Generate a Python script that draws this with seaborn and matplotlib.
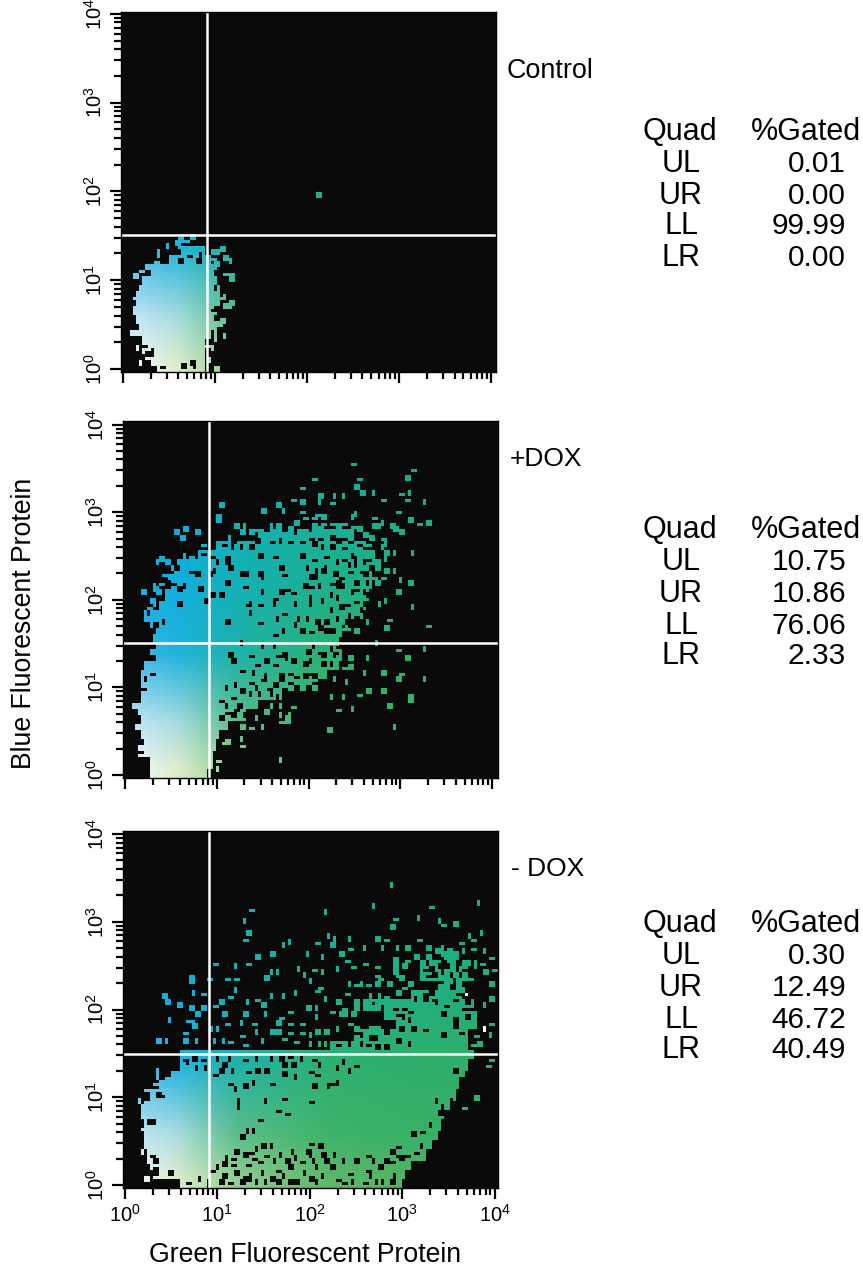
import numpy as np
import matplotlib
matplotlib.use('Agg')
import matplotlib.pyplot as plt
from matplotlib.colors import ListedColormap
import seaborn as sns

# Readings are in fine channel units, 9 units = 1 plot channel (3 px cell)
FINE = 9
W, H = 863, 1265

# ----------------------------------------------------
# Control: (fine y, fine x from, fine x to)
# ----------------------------------------------------
P1_SPANS = [(445,175,310),(420,155,310),(390,145,320),(360,128,328),(330,120,345),(300,110,350),
            (270,110,350),(240,115,355),(210,125,355),(180,130,350),(150,155,335),(120,210,325),(90,245,310)]
P1_EXTRA = [(275,52),(260,62),(235,65),(245,60),(205,85),(240,85),(225,75),(175,100),(175,112),(250,95),
            (275,95),(300,85),(365,88),(335,100),(355,100),(335,122),(370,122),(390,128),(345,135),(350,150),
            (375,160),(390,180),(395,175),(165,135),(155,145),(125,155),(135,150),(100,170),(105,235),(115,230),
            (360,232),(370,232),(380,262),(390,258),(370,265),(105,270),(100,280),(120,310),(95,342),(105,342),
            (370,310),(365,312),(355,320),(375,350),(345,365),(340,385),(110,390),(135,385),(125,435),(130,400),
            (135,415),(345,450),(330,425),(320,380),(648,-72)]
P1_HOLE = [(235,128),(295,125),(300,110),(265,108),(345,265),(350,210),(340,270),(150,385),(150,405),(150,425),
           (270,435),(245,445),(280,445),(315,415),(315,395),(315,375),(335,380),(180,445),(345,300),(340,340)]

# ----------------------------------------------------
# +DOX
# ----------------------------------------------------
P2_SPANS = [(945,120,290),(915,120,300),(885,120,300),(855,105,315),(825,100,325),(795,100,345),(765,100,400),
            (735,95,440),(705,95,510),(675,100,620),(645,100,650),(615,105,680),(585,125,690),(555,130,680),
            (525,130,690),(495,125,720),(465,125,750),(435,150,760),(405,165,770),(375,185,780),(345,195,800),
            (315,210,810),(285,270,790),(255,325,760),(225,450,730)]
P2_EXTRA = [(730,15),(905,35),(610,60),(885,60),(570,82),(745,60),(740,82),(790,100),(755,100),(870,100),(895,100),
            (625,110),(675,110),(700,115),(550,120),(575,130),(625,130),(660,130),(940,133),(815,125),(885,118),
            (500,142),(460,155),(520,160),(335,142),(325,165),(325,185),(570,160),(640,165),(740,165),(790,180),
            (800,205),(845,205),(860,155),(925,195),(950,190),(895,185),(400,205),(380,205),(480,200),(580,180),
            (610,180),(640,180),(660,190),(700,195),(725,200),(255,222),(220,215),(195,222),(215,238),(280,255),
            (240,295),(220,295),(155,298),(140,315),(165,315),(185,330),(205,310),(850,280),(820,240),(825,260),
            (905,285),(875,220),(850,215),(855,335),(830,340),(805,325),(820,360),(800,370),(870,365),(900,375),
            (860,400),(825,425),(810,440),(905,450),(950,500),(825,510),(835,480),(775,490),(740,520),(700,510),
            (940,568),(860,575),(890,595),(800,555),(770,597),(720,597),(680,600),(670,620),(700,630),(720,630),
            (760,640),(815,640),(870,640),(865,665),(940,658),(710,672),(675,665),(665,720),(700,715),(745,705),
            (770,700),(815,700),(895,705),(895,725),(835,740),(685,750),(725,750),(850,808),(655,815),(510,908),
            (100,398),(130,395),(105,480),(115,450),(135,440),(70,745),(80,745),(85,760),(75,810),(85,810),
            (90,870),(85,885),(105,885),(115,885),(510,770),(530,770),(540,770),(510,790),(530,790),(390,810),
            (420,808),(460,805),(440,780),(470,760),(545,740),(510,740),(480,740),(345,855),(390,845),(395,860),
            (300,890),(320,905),(320,930),(340,855),(180,360),(130,385),(780,240),(770,260),(790,300),
            (610,200),(630,210),(650,220),(680,225),(720,220),(745,215),(760,230),(620,170),(640,195),(680,205),
            (700,210),(730,175),(790,205),(815,195),(560,190),(540,205),(500,205),(440,215),(420,225),(390,225),
            (355,235),(830,300),(815,270),(830,280),(160,345),(150,370),(140,400),(125,430),(110,465)]
P2_HOLE = [(420,240),(440,250),(480,250),(510,245),(540,250),(570,250),(600,235),(625,240),(660,240),(700,240),
           (720,250),(745,255),(640,265),(660,270),(700,270),(730,295),(740,300),(760,270),(775,300),(700,300),
           (685,310),(610,300),(570,297),(495,292),(445,290),(420,270),(395,270),(365,250),(350,290),(345,315),
           (360,330),(320,315),(300,350),(310,340),(255,345),(240,340),(190,375),(205,395),(225,380),(265,395),
           (345,372),(405,385),(395,345),(405,345),(450,345),(460,355),(510,330),(520,345),(590,330),(615,335),
           (640,335),(670,350),(690,355),(720,340),(735,320),(760,350),(775,370),(735,375),(700,385),(660,370),
           (630,380),(580,380),(600,385),(530,395),(510,405),(550,405),(490,420),(455,405),(415,435),(305,412),
           (335,412),(285,432),(205,440),(160,490),(350,487),(425,465),(450,490),(500,480),(520,465),(565,478),
           (590,480),(600,440),(640,430),(660,455),(690,450),(720,470),(740,425),(760,440),(775,410),(725,405),
           (680,420),(605,420),(555,440),(495,440),(445,435),(420,440),(620,490),(650,490),(680,480),(700,505),
           (720,500),(740,470),(760,470),(745,515),(575,520),(555,500),(520,520),(490,525),(600,520),(630,510),
           (650,520),(665,520),(690,535),(460,565),(490,565),(500,590),(520,590),(395,555),(355,590),(370,605),
           (425,590),(440,620),(470,610),(490,615),(530,600),(545,610),(590,580),(610,565),(630,580),(600,605),
           (580,620),(640,590),(660,575),(660,620),(395,635),(430,640),(465,650),(510,640),(540,640),(510,660),
           (490,680),(460,660),(420,670),(375,680),(350,690),(395,700),(440,690),(475,690),(520,695),(370,720),
           (345,740),(385,740),(450,710),(480,710),(500,720),(420,710),(560,650),(610,650),(640,660),(580,650),
           (600,640),(540,670),(555,690),(330,780),(370,770),(345,760),(400,770),(380,755),(335,725),(610,675),
           (590,685),(640,620),(670,590),(680,560),(670,520),(680,640),(120,600),(120,640),(110,660),(100,690),
           (470,215),(520,215),(560,225),(600,215),(650,225),(700,215),(340,255),(370,265),(280,285),(300,295),
           (650,290),(680,250),(610,260),(720,320),(750,340),(780,330),(760,310),(790,350),(650,330),(600,360),
           (620,360),(680,370),(760,400),(740,395),(710,440),(680,385),(660,410),(750,455),(710,490),(660,505),
           (130,500),(125,520),(135,560),(125,590)]

# ----------------------------------------------------
# -DOX
# ----------------------------------------------------
P3_SPANS = [(945,215,290),(945,305,870),(915,130,295),(915,300,880),(885,125,900),(855,115,940),(825,105,960),
            (795,105,975),(765,105,985),(735,100,1000),(705,110,1015),(675,125,1030),(645,150,1045),(615,185,1060),
            (585,210,1070),(555,210,1085),(525,660,1070),(495,740,1070),(465,860,1100),(435,830,1100),(405,760,1090),
            (375,910,1060),(345,990,1060),(315,930,1090),(285,930,1100),(255,1000,1040)]
P3_EXTRA = [(845,48),(1105,100),(425,122),(650,132),(790,115),(958,117),(855,145),(925,145),(405,155),(985,160),
            (1030,170),(995,170),(410,190),(840,180),(1115,192),(715,208),(800,208),(655,205),(620,218),(540,218),
            (400,216),(520,232),(660,228),(675,215),(720,235),(830,215),(860,240),(885,240),(965,240),(1015,240),
            (1050,220),(1075,205),(1090,210),(925,210),(485,253),(590,258),(640,265),(440,265),(690,258),(765,242),
            (820,235),(710,275),(850,275),(920,262),(950,262),(1005,262),(1140,262),(1110,280),(1125,315),(1140,345),
            (1145,380),(1140,390),(1125,410),(1140,460),(1140,500),(1145,575),(1130,590),(1100,685),(1060,720),
            (855,315),(800,290),(760,285),(725,290),(680,300),(640,310),(610,300),(585,320),(565,298),(500,315),
            (485,315),(470,325),(345,325),(375,325),(380,297),(415,285),(310,285),(240,333),(245,340),(295,330),
            (250,370),(280,372),(375,368),(360,385),(160,380),(170,400),(205,407),(245,415),(275,415),(310,408),
            (330,405),(255,435),(230,458),(245,458),(180,458),(225,490),(225,505),(250,470),(340,440),(345,460),
            (400,440),(395,465),(435,388),(410,405),(460,410),(480,380),(520,385),(560,375),(620,368),(705,370),
            (600,335),(630,355),(740,350),(770,350),(795,345),(810,325),(650,390),(680,400),(700,420),(735,420),
            (620,420),(590,415),(540,430),(510,445),(470,435),(430,465),(500,460),(540,460),(570,460),(620,450),
            (660,430),(690,440),(730,440),(760,400),(790,390),(145,518),(165,518),(220,518),(255,518),(305,480),
            (320,480),(310,520),(340,520),(360,520),(395,500),(440,495),(480,495),(520,510),(555,520),(400,525),
            (460,520),(500,490),(540,490),(570,490),(890,275),(870,330),(835,350),(900,345),(90,695),(95,720),
            (110,665),(125,665),(135,640),(145,610),(145,625),(165,625),(95,745),(100,780),(100,850),(105,930),
            (115,880),(155,910),(600,530),(630,530),(650,525),(860,370),(880,360),(810,380),(780,410),(740,400),
            (720,350),(750,350),(850,290),(880,290),(860,320),(800,320),(840,350),(780,380),(830,380),(840,450),
            (800,470),(780,480),(740,470),(720,460),(680,480),(650,490),(620,490),(600,500),(700,440),(1120,250),
            (1150,300),(1090,240),(1060,250),(950,240),(1000,235),(980,250),(1100,500),(1085,530),(1105,530)]
P3_HOLE = [(1000,440),(1030,455),(1030,470),(1060,420),(1070,400),(880,420),(850,420),(900,430),(800,510),(800,535),
           (830,535),(830,490),(750,500),(735,490),(700,495),(690,470),(720,530),(750,530),(650,500),(1000,310),
           (1020,320),(1050,320),(990,340),(950,320),(1060,350),(940,380),(1030,390),(1080,300),(1040,280),(1000,275),
           (960,300),(910,300),(930,350),(920,390),(970,390),(220,570),(250,575),(280,570),(320,570),(340,590),
           (360,575),(400,570),(440,570),(480,575),(510,570),(540,565),(570,575),(610,570),(630,590),(680,600),
           (700,580),(715,610),(740,590),(660,640),(655,655),(610,650),(685,640),(430,640),(470,610),(520,620),
           (560,630),(440,610),(480,640),(520,590),(360,640),(400,650),(230,585),(200,590),(160,590),(170,580),
           (370,610),(410,605),(550,590),(600,610),(620,620),(290,600),(310,615),(335,610),(260,600),(380,660),
           (385,700),(385,715),(465,695),(520,690),(600,700),(525,730),(500,725),(445,750),(395,805),(430,790),
           (415,790),(145,680),(155,680),(115,760),(125,760),(975,695),(1030,605),(1050,625),(1070,640),(1050,650),
           (1040,670),(1020,695),(1000,715),(990,735),(960,770),(930,790),(910,800),(930,830),(915,850),(860,830),
           (845,850),(870,870),(890,860),(480,830),(460,830),(440,840),(420,850),(600,820),(625,830),(590,850),
           (350,870),(370,870),(400,860),(430,870),(470,860),(510,860),(550,850),(600,860),(640,860),(320,900),
           (340,890),(370,885),(410,890),(450,880),(490,880),(530,880),(570,880),(610,880),(650,880),(700,880),
           (740,880),(790,880),(830,880),(860,860),(340,920),(380,910),(420,920),(460,910),(500,905),(540,900),
           (580,910),(620,900),(660,900),(720,910),(770,905),(810,900),(840,880),(360,940),(400,935),(440,945),
           (480,930),(520,925),(560,940),(600,930),(640,925),(680,935),(730,940),(780,920),(820,940),(850,925),
           (305,905),(100,860),(125,860),(130,875),(110,885),(130,905),(145,910),(180,915),(125,935),(135,915),
           (270,932),(180,945),(235,945),(330,945),(390,945),(470,945),(540,945),(620,945),(700,945),(760,945),
           (800,945),(840,945),(380,850),(560,870),(675,860),(770,860),(410,935),(500,940),
           (940,300),(970,320),(1010,295),(1060,300),(1075,320),(1030,340),(1045,375),(940,395),(980,405),(1010,410),
           (790,400),(820,415),(860,440),(880,445),(900,455),(870,480),(910,485),(940,480),(1000,500),(1050,490),
           (780,510),(720,505),(770,530),(860,520),(900,530),(680,530),(1065,450),(1090,480),(1075,420),(1085,360),
           (1090,310),(1085,285),(1060,385),(960,375),(1020,360),(1040,300),(950,285),(985,290)]
P3_WHITE = [(1065,375),(1120,475),(1125,480)]

# colour of the dots by position in the plot: blue at high BFP, green at high GFP
COLOR_X = [0.05, 0.15, 0.30, 0.55, 0.90]
COLOR_Y = [0.02, 0.15, 0.35, 0.55, 0.80]
COLOR_TABLE = ['#eef6f4 #dcecc8 #90cf90 #5cb868 #4db060',
               '#bfe4f2 #a8dcdc #5cbd8a #3eb268 #35b068',
               '#38b4e4 #1fb2dc #1db2a8 #2cb070 #2fae68',
               '#10ace0 #10aedc #12b0b8 #1cb08c #20ae7c',
               '#10acd8 #10aed0 #12b0b4 #16b09a #18ac88']

GFP_LABEL = 'Green Fluorescent Protein'
BFP_LABEL = 'Blue Fluorescent Protein'
TABLE_ROWS = ['UL', 'UR', 'LL', 'LR']
P1_GATED = ['0.01', '0.00', '99.99', '0.00']
P2_GATED = ['10.75', '10.86', '76.06', '2.33']
P3_GATED = ['0.30', '12.49', '46.72', '40.49']

sns.set_theme(style='white')
plt.rcParams['font.family'] = ['Liberation Sans', 'DejaVu Sans']
plt.rcParams['mathtext.fontset'] = 'custom'
plt.rcParams['mathtext.rm'] = 'Liberation Sans'

fig = plt.figure(figsize=(W / 100, H / 100), dpi=100, facecolor='white')


def hex_rgb(h):
    return [int(h[i:i + 2], 16) / 255 for i in (1, 3, 5)]


table_rgb = np.array([[hex_rgb(c) for c in row.split()] for row in COLOR_TABLE])


def cell_color(col, row, ncols, nrows):
    fx, fy = (col + 0.5) / ncols, (row + 0.5) / nrows
    by_row = [[np.interp(fx, COLOR_X, table_rgb[j, :, k]) for k in range(3)] for j in range(5)]
    by_row = np.array(by_row)
    return [np.interp(fy, COLOR_Y, by_row[:, k]) for k in range(3)]


def speckle(filled, x, y, ox, oy, value):
    # speckles in the reference come as short dashes both ways and small squares
    c, r = (x - ox) // FINE, (oy - y) // FINE
    kind = (x + y) % 3
    wide = 2 if kind != 2 else 1
    tall = 2 if kind != 1 else 1
    filled[r:r + tall, c:c + wide] = value


def draw_panel(left, bottom, nrows, ox, oy, spans, extra, hole, white, x0, xdec, y0, ydec, vline, hline, labels):
    ncols = 125
    filled = np.zeros((nrows, ncols), dtype=bool)
    for y, a, b in spans:
        r0, r1 = round((oy - y - 15) / FINE), round((oy - y + 15) / FINE)
        filled[max(r0, 0):r1, (a - ox) // FINE:(b - ox) // FINE + 1] = True
    for x, y in hole:
        speckle(filled, x, y, ox, oy, False)
    for x, y in extra:
        speckle(filled, x, y, ox, oy, True)
    for x, y in white:
        filled[(oy - y) // FINE, (x - ox) // FINE] = True

    colors = [cell_color(c, r, ncols, nrows) for r in range(nrows) for c in range(ncols)]
    for x, y in white:
        colors[(oy - y) // FINE * ncols + (x - ox) // FINE] = [1, 1, 1]
    values = np.arange(nrows * ncols).reshape(nrows, ncols)

    ax = fig.add_axes([left / W, 1 - bottom / H, ncols * 3 / W, nrows * 3 / H])
    ax.set_facecolor('#0a0a0a')
    sns.heatmap(values, mask=~filled, cmap=ListedColormap(colors), vmin=0, vmax=nrows * ncols - 1,
                cbar=False, xticklabels=False, yticklabels=False, ax=ax)
    ax.set_xlim(0, ncols)
    ax.set_ylim(0, nrows)
    ax.axvline(vline, color='white', lw=1.8)
    ax.axhline(hline, color='white', lw=1.8)

    decades = np.arange(5)
    minors = np.log10(np.arange(2, 10))
    minor_dec = np.concatenate([d + minors for d in decades[:-1]])
    ax.set_xticks(x0 + xdec * decades)
    ax.set_xticks(x0 + xdec * minor_dec, minor=True)
    ax.set_yticks(y0 + ydec * decades)
    ax.set_yticks(y0 + ydec * minor_dec, minor=True)
    ax.tick_params(which='major', length=8, width=1.6, color='black', bottom=True, left=True, labelcolor='black')
    ax.tick_params(which='minor', length=5, width=1.6, color='black', bottom=True, left=True)
    tick_text = [f'$\\mathregular{{10^{d}}}$' for d in decades]
    ax.set_yticklabels(tick_text, rotation=90, va='center', fontsize=14.5)
    ax.tick_params(axis='y', which='major', pad=3)
    if labels:
        ax.set_xticklabels(tick_text, fontsize=14.5)
    else:
        ax.set_xticklabels([])
    for s in ax.spines.values():
        s.set_visible(True)
        s.set_color('black')
        s.set_linewidth(1)
    return ax


def px_text(x, y, s, **kw):
    fig.text(x / W, 1 - (y + 1.5) / H, s, color='black', va='center', **kw)


def draw_table(ys, gated):
    px_text(680, ys[0], 'Quad', ha='center', fontsize=22)
    px_text(861, ys[0], '%Gated', ha='right', fontsize=22)
    for y, name, val in zip(ys[1:], TABLE_ROWS, gated):
        px_text(681, y, name, ha='center', fontsize=22)
        px_text(846, y, val, ha='right', fontsize=21.5)


draw_panel(121, 372, 120, 63, 456, P1_SPANS, P1_EXTRA, P1_HOLE, [], 0.6, 30.7, 1, 29.6, 28.6, 45.7, False)
draw_panel(123, 778, 119, 39, 954, P2_SPANS, P2_EXTRA, P2_HOLE, [], 0.67, 30.6, 1, 29.2, 28.6, 45, False)
draw_panel(123, 1188, 119, 39, 954, P3_SPANS, P3_EXTRA, P3_HOLE, P3_WHITE, 0.67, 30.8, 1, 29.25, 28.8, 44.7, True)

px_text(507, 70, 'Control', ha='left', fontsize=19.4)
px_text(510, 457, '+DOX', ha='left', fontsize=19)
px_text(511, 868, '- DOX', ha='left', fontsize=19)
px_text(305, 1253, GFP_LABEL, ha='center', fontsize=19.2)
px_text(24, 622, BFP_LABEL, ha='center', rotation=90, fontsize=19.2)

draw_table([131, 163, 194, 225, 257], P1_GATED)
draw_table([529, 561, 592, 624, 655], P2_GATED)
draw_table([923, 955, 986, 1018, 1048], P3_GATED)

fig.savefig('out.png', dpi=100, facecolor='white')
